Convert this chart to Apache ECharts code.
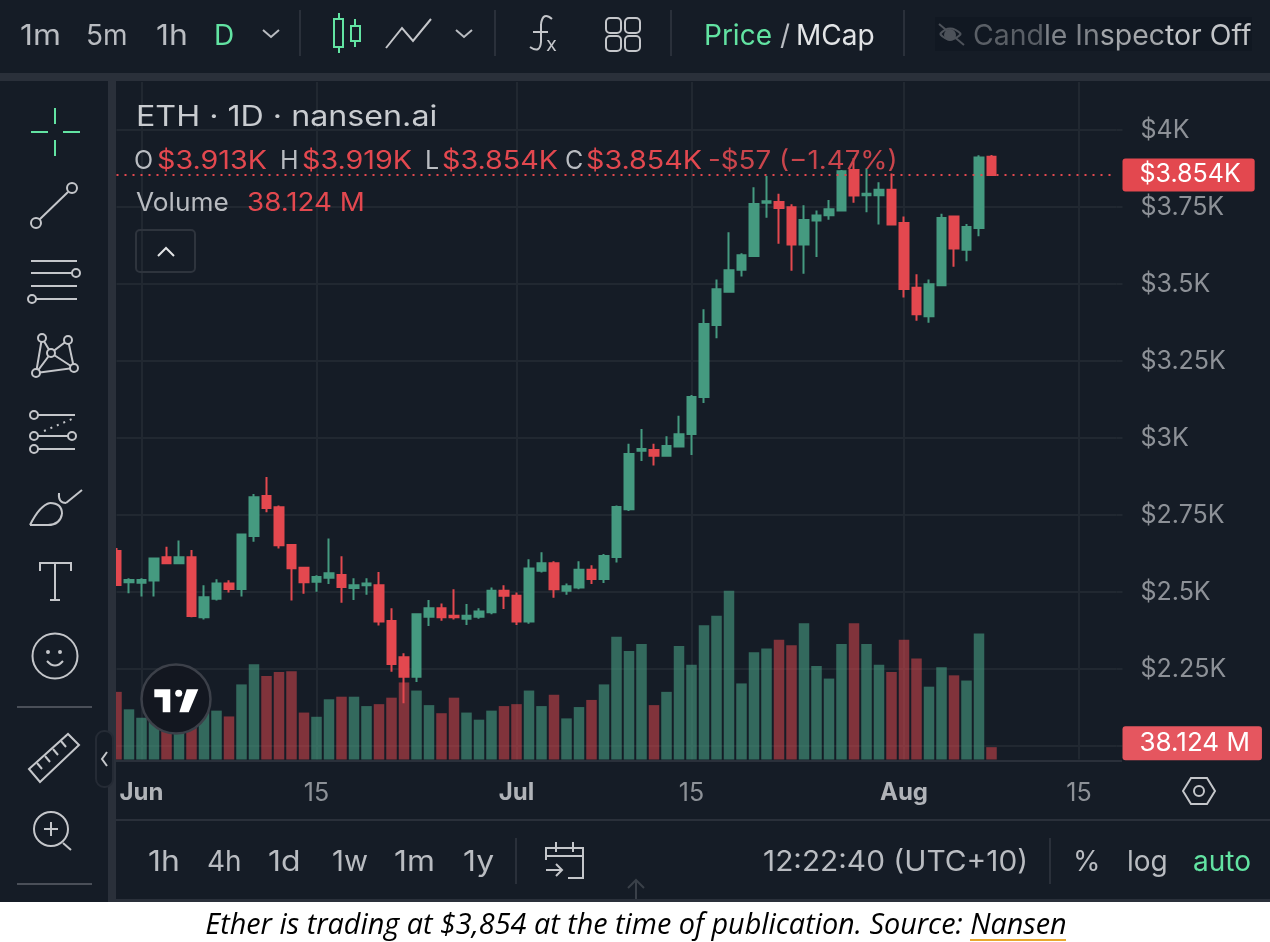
<!DOCTYPE html>
<html>
<head>
<meta charset="utf-8">
<style>
html, body { margin: 0; padding: 0; background: #fff; }
#chart { width: 1270px; height: 942px; }
</style>
<script src="https://cdn.jsdelivr.net/npm/echarts@6/dist/echarts.min.js"></script>
</head>
<body>
<div id="chart"></div>
<script>
var dates = [
	'May 30','May 31','Jun 1','Jun 2','Jun 3','Jun 4','Jun 5','Jun 6','Jun 7','Jun 8',
	'Jun 9','Jun 10','Jun 11','Jun 12','Jun 13','Jun 14','Jun 15','Jun 16','Jun 17','Jun 18',
	'Jun 19','Jun 20','Jun 21','Jun 22','Jun 23','Jun 24','Jun 25','Jun 26','Jun 27','Jun 28',
	'Jun 29','Jun 30','Jul 1','Jul 2','Jul 3','Jul 4','Jul 5','Jul 6','Jul 7','Jul 8',
	'Jul 9','Jul 10','Jul 11','Jul 12','Jul 13','Jul 14','Jul 15','Jul 16','Jul 17','Jul 18',
	'Jul 19','Jul 20','Jul 21','Jul 22','Jul 23','Jul 24','Jul 25','Jul 26','Jul 27','Jul 28',
	'Jul 29','Jul 30','Jul 31','Aug 1','Aug 2','Aug 3','Aug 4','Aug 5','Aug 6','Aug 7',
	'Aug 8','Aug 9','Aug 10','Aug 11','Aug 12','Aug 13','Aug 14','Aug 15','Aug 16','Aug 17',
	'Aug 18'
];
var opens = [
	2633,2532,2530,2537,2613,2593,2613,2418,2478,2528,
	2510,2682,2812,2775,2653,2579,2533,2546,2555,2513,
	2522,2522,2406,2288,2225,2420,2447,2423,2413,2420,
	2434,2504,2488,2404,2569,2593,2504,2515,2572,2542,
	2614,2769,2959,2961,2942,2972,3013,3133,3367,3475,
	3546,3591,3764,3766,3749,3628,3706,3723,3739,3870,
	3788,3788,3806,3698,3488,3395,3496,3719,3611,3682,
	3913
];
var closes = [
	2523,2539,2539,2609,2593,2613,2422,2483,2528,2510,
	2687,2808,2773,2652,2577,2532,2549,2561,2516,2522,
	2528,2404,2266,2225,2428,2447,2418,2418,2423,2437,
	2504,2488,2404,2576,2593,2509,2519,2572,2542,2617,
	2776,2948,2964,2942,2974,3012,3133,3370,3483,3545,
	3593,3760,3769,3747,3628,3708,3722,3743,3866,3787,
	3793,3806,3693,3484,3402,3499,3714,3615,3685,3911,
	3854
];
var lows = [
	2520,2496,2485,2485,2593,2592,2418,2411,2472,2498,
	2485,2663,2759,2641,2472,2494,2501,2526,2465,2474,
	2491,2391,2241,2139,2208,2390,2407,2411,2393,2413,
	2428,2445,2393,2397,2563,2481,2491,2509,2526,2529,
	2596,2763,2925,2911,2941,2971,2945,3114,3324,3474,
	3524,3589,3715,3631,3543,3533,3588,3709,3738,3764,
	3733,3693,3692,3456,3381,3374,3495,3556,3574,3655,
	3854
];
var highs = [
	2643,2545,2545,2610,2647,2667,2636,2522,2541,2538,
	2688,2818,2873,2781,2655,2580,2554,2674,2616,2545,
	2545,2565,2447,2301,2430,2474,2463,2509,2461,2447,
	2515,2522,2498,2606,2629,2600,2528,2600,2587,2623,
	2781,2981,3029,2981,3006,3072,3140,3418,3515,3668,
	3600,3814,3851,3793,3759,3756,3739,3773,3870,3909,
	3876,3830,3859,3719,3532,3515,3728,3720,3695,3918,
	3919
];
var volumes = [
	209,155,129,116,142,101,132,152,151,133,
	232,294,258,270,273,145,132,186,194,194,
	165,171,191,238,213,168,143,191,145,123,
	151,165,171,213,165,200,127,162,184,232,
	379,335,357,168,209,351,293,415,444,521,
	235,331,343,370,353,421,289,250,357,421,
	357,293,270,370,312,225,285,260,244,389,
	38.124
];
var tickDates = ['Jun 1', 'Jun 15', 'Jul 1', 'Jul 15', 'Aug 1', 'Aug 15'];
var tickLabels = ['{m|Jun}', '15', '{m|Jul}', '15', '{m|Aug}', '15'];
var priceTicks = [4000, 3750, 3500, 3250, 3000, 2750, 2500, 2250];
var priceLabels = ['$4K', '$3.75K', '$3.5K', '$3.25K', '$3K', '$2.75K', '$2.5K', '$2.25K'];
var lastPrice = 3854;
var lastVolume = 38.124;

var bg = '#151c26';
var sep = '#2a303a';
var gridColor = '#212831';
var green = '#459a80';
var red = '#e3484f';
var mint = '#62e3a2';
var textGrey = '#b9bcc1';
var axisGrey = '#8d9197';
var iconGrey = '#c4c6ca';
var uiFont = 'Inter, sans-serif';

// sx stretches the text sideways, the source screenshot is a bit wider than Inter
function txt(x, y, text, color, size, sx, extra) {
	var style = {
		text: text, x: 0, y: 0, fill: color,
		font: (size || 28) + 'px ' + uiFont,
		textAlign: 'left', textVerticalAlign: 'middle'
	};
	for (var k in extra) { style[k] = extra[k]; }
	return { type: 'text', silent: true, x: x, y: y + 4, scaleX: sx || 1, style: style };
}
function line(x1, y1, x2, y2, color, width, dash) {
	return {
		type: 'line', silent: true,
		shape: { x1: x1, y1: y1, x2: x2, y2: y2 },
		style: { stroke: color || iconGrey, lineWidth: width || 2, lineDash: dash || null }
	};
}
function circ(cx, cy, r, color, fill) {
	return {
		type: 'circle', silent: true,
		shape: { cx: cx, cy: cy, r: r },
		style: { stroke: color || iconGrey, lineWidth: 2, fill: fill || bg }
	};
}
function poly(points, color, width, closed) {
	return {
		type: closed ? 'polygon' : 'polyline', silent: true,
		shape: { points: points },
		style: { stroke: color || iconGrey, lineWidth: width || 2, fill: closed ? 'none' : null }
	};
}
function box(x, y, w, h, fill, r, stroke) {
	return {
		type: 'rect', silent: true,
		shape: { x: x, y: y, width: w, height: h, r: r || 0 },
		style: { fill: fill, stroke: stroke || null, lineWidth: stroke ? 2 : 0 }
	};
}
function quad(x1, y1, cx, cy, x2, y2, color) {
	return {
		type: 'bezierCurve', silent: true,
		shape: { x1: x1, y1: y1, cpx1: cx, cpy1: cy, x2: x2, y2: y2 },
		style: { stroke: color || iconGrey, lineWidth: 2, fill: 'none' }
	};
}

var chrome = [
	// frame
	box(0, 73, 1270, 8, sep),
	box(108, 81, 8, 821, sep),
	box(116, 760, 1006, 2, sep),
	box(116, 819, 1154, 2, sep),
	box(116, 899, 1154, 3, sep),
	box(0, 902, 1270, 40, '#ffffff'),

	// top toolbar
	txt(20, 33, '1m', textGrey, 28, 1.14),
	txt(86, 33, '5m', textGrey),
	txt(156, 33, '1h', textGrey, 28, 1.14),
	txt(214, 33, 'D', mint),
	poly([[263, 30], [271, 37], [279, 30]], textGrey),
	line(300, 10, 300, 56, sep),
	line(339, 13, 339, 53, mint),
	box(334, 19, 9, 28, bg, 0, mint),
	line(355, 19, 355, 47, mint),
	box(351, 26, 9, 15, bg, 0, mint),
	poly([[386, 48], [402, 28], [413, 41], [431, 19]], iconGrey),
	poly([[456, 30], [464, 37], [472, 30]], textGrey),
	line(495, 10, 495, 56, sep),
	quad(552, 19, 543, 11, 541, 24),
	line(541, 24, 541, 42),
	quad(541, 42, 540, 54, 530, 47),
	line(533, 32, 548, 32),
	txt(546, 41, 'x', iconGrey, 20),
	box(606, 18, 15, 15, 'none', 4, iconGrey),
	box(625, 18, 15, 15, 'none', 4, iconGrey),
	box(606, 36, 15, 15, 'none', 4, iconGrey),
	box(625, 36, 15, 15, 'none', 4, iconGrey),
	line(671, 10, 671, 56, sep),
	txt(704, 33, 'Price', mint),
	txt(780, 33, '/', textGrey),
	txt(796, 33, 'MCap', '#e2e4e6'),
	line(904, 10, 904, 56, sep),
	box(935, 17, 317, 34, '#111822'),
	quad(940, 34, 950, 23, 961, 34, '#4d525a'),
	quad(940, 34, 950, 45, 961, 34, '#4d525a'),
	circ(950, 35, 5, '#4d525a', '#4d525a'),
	line(939, 24, 964, 45, '#4d525a'),
	txt(973, 33, '{a|Cand}{b|le In}{c|spec}{d|tor Off}', '#aaa', 28, 1.015, {
		rich: {
			a: { fill: '#5a5f66', font: '28px ' + uiFont },
			b: { fill: '#7f8389', font: '28px ' + uiFont },
			c: { fill: '#a3a6aa', font: '28px ' + uiFont },
			d: { fill: '#c3c5c8', font: '28px ' + uiFont }
		}
	}),

	// chart header
	txt(136, 114, 'ETH · 1D · nansen.ai', '#c9ccd0', 28, 1.15),
	txt(134, 157, 'O', textGrey, 25),
	txt(157, 157, '$3.913K', red, 25, 1.147),
	txt(280, 157, 'H', textGrey, 25),
	txt(302, 157, '$3.919K', red, 25, 1.147),
	txt(425, 157, 'L', textGrey, 25),
	txt(442, 157, '$3.854K', red, 25, 1.147),
	txt(565, 157, 'C', textGrey, 25),
	txt(586, 157, '$3.854K', red, 25, 1.147),
	txt(708, 157, '-$57 (−1.47%)', '#c9454c', 25, 1.11),
	txt(136, 199, 'Volume', textGrey, 25, 1.05),
	txt(247, 199, '38.124 M', red, 25, 1.11),
	box(136, 230, 59, 42, 'none', 4, '#2e343d'),
	poly([[158, 256], [166, 248], [174, 256]], '#e2e4e6'),

	// left tools
	line(55, 108, 55, 124, mint),
	line(55, 140, 55, 156, mint),
	line(31, 132, 48, 132, mint),
	line(63, 132, 80, 132, mint),
	line(39, 220, 68, 192),
	circ(36, 223, 5),
	circ(72, 188, 5),
	line(31, 261, 77, 261),
	line(31, 273, 72, 273),
	circ(76, 273, 4),
	line(31, 286, 77, 286),
	line(36, 299, 77, 299),
	circ(32, 299, 4),
	poly([[42, 338], [36, 373], [51, 353], [42, 338]]),
	poly([[36, 373], [74, 368], [68, 340], [51, 353], [74, 368]]),
	circ(42, 338, 4),
	circ(68, 340, 4),
	circ(51, 353, 4),
	circ(36, 373, 4),
	circ(74, 368, 4),
	line(38, 415, 75, 415),
	circ(34, 415, 4),
	line(44, 431, 72, 419, iconGrey, 2, [2, 5]),
	line(38, 436, 68, 436),
	circ(34, 436, 4),
	circ(72, 436, 4),
	line(38, 449, 75, 449),
	circ(34, 449, 4),
	quad(30, 525, 40, 505, 50, 503),
	quad(50, 503, 62, 503, 62, 514),
	quad(62, 514, 60, 525, 48, 525),
	line(30, 525, 48, 525),
	quad(59, 493, 58, 503, 66, 503),
	line(66, 503, 82, 490),
	poly([[40, 571], [40, 563], [71, 563], [71, 571]]),
	line(55, 563, 55, 600),
	line(50, 600, 60, 600),
	circ(55, 656, 22.5),
	circ(48, 652, 1, iconGrey, iconGrey),
	circ(60, 652, 1, iconGrey, iconGrey),
	quad(47, 661, 55, 670, 63, 661),
	line(17, 707, 92, 707, '#4a4f58'),
	poly([[29, 769], [68, 734], [79, 745], [40, 782]], iconGrey, 2, true),
	line(37, 763, 42, 769),
	line(45, 756, 50, 762),
	line(53, 749, 58, 755),
	line(61, 741, 66, 747),
	circ(51, 829, 17),
	line(44, 829, 58, 829),
	line(51, 822, 51, 836),
	line(63, 843, 71, 850),
	line(17, 884, 92, 884, '#4a4f58'),
	box(96, 731, 17, 56, bg, 8, '#252b35'),
	poly([[107, 752], [102, 759], [107, 766]], iconGrey),

	// x axis and bottom bar
	poly([[1183, 791], [1191, 778], [1207, 778], [1215, 791], [1207, 804], [1191, 804]], iconGrey, 2, true),
	circ(1199, 791, 5),
	txt(148, 859, '1h', textGrey, 28, 1.14),
	txt(207, 859, '4h', textGrey),
	txt(268, 859, '1d', textGrey, 28, 1.14),
	txt(332, 859, '1w', textGrey, 28, 1.05),
	txt(394, 859, '1m', textGrey, 28, 1.14),
	txt(463, 859, '1y', textGrey, 28, 1.14),
	line(516, 838, 516, 884, sep),
	poly([[546, 860], [546, 848], [583, 848], [583, 878], [568, 878]]),
	line(546, 856, 583, 856),
	line(556, 842, 556, 852),
	line(573, 842, 573, 852),
	line(546, 870, 562, 870),
	poly([[556, 864], [562, 870], [556, 876]]),
	txt(763, 859, '12:22:40 (UTC+10)', textGrey, 28, 1.065),
	line(1050, 838, 1050, 884, sep),
	txt(1073, 859, '%', textGrey),
	txt(1127, 859, 'log', textGrey),
	txt(1193, 859, 'auto', mint),
	line(636, 881, 636, 899, '#3a4049'),
	poly([[628, 888], [636, 880], [644, 888]], '#3a4049'),

	// logo
	{
		type: 'circle', silent: true,
		shape: { cx: 176, cy: 699, r: 34.5 },
		style: { fill: '#131720', stroke: '#3c4049', lineWidth: 2.5 }
	},
	{
		type: 'polygon', silent: true,
		shape: { points: [[154.3, 689.3], [170.3, 689.3], [170.3, 712.3], [162.7, 712.3], [162.7, 697.3], [154.3, 697.3]] },
		style: { fill: '#ffffff' }
	},
	{
		type: 'circle', silent: true,
		shape: { cx: 178.7, cy: 693.3, r: 3.5 },
		style: { fill: '#ffffff' }
	},
	{
		type: 'polygon', silent: true,
		shape: { points: [[186.7, 689.3], [198.3, 689.3], [188.7, 712.3], [179.3, 712.3]] },
		style: { fill: '#ffffff' }
	},

	// caption
	txt(636, 922, 'Ether is trading at $3,854 at the time of publication. Source: Nansen', '#000000', 28, 1, {
		font: 'italic 28.8px "Open Sans", sans-serif', textAlign: 'center'
	}),
	box(970, 939, 96, 2, '#e8a92e')
];
// keep the interface above the candles and bars
chrome.forEach(function (el) { el.z = 100; });

var candleData = [];
var volumeData = [];
for (var i = 0; i < opens.length; i++) {
	candleData.push([opens[i], closes[i], lows[i], highs[i]]);
	volumeData.push({
		value: volumes[i],
		itemStyle: { color: closes[i] >= opens[i] ? 'rgba(69,154,128,0.62)' : 'rgba(227,72,79,0.52)' }
	});
}

function isTick(index, value) {
	return tickDates.indexOf(value) >= 0;
}

var option = {
	animation: false,
	backgroundColor: bg,
	textStyle: { fontFamily: uiFont },
	grid: [
		{ left: 116.5, width: 1000, top: 130, height: 616 },
		{ left: 116.5, width: 1000, top: 82, height: 677.5 }
	],
	xAxis: [
		{
			type: 'category', gridIndex: 0, data: dates, boundaryGap: false,
			axisLine: { show: false }, axisTick: { show: false },
			axisLabel: { show: false }, splitLine: { show: false }
		},
		{
			type: 'category', gridIndex: 1, data: dates, boundaryGap: false,
			axisLine: { show: false }, axisTick: { show: false },
			axisLabel: {
				interval: isTick,
				margin: 21,
				color: axisGrey,
				fontSize: 25,
				formatter: function (value) {
					return tickLabels[tickDates.indexOf(value)];
				},
				rich: { m: { color: '#b0b3b8', fontSize: 24, fontWeight: 'bold', fontFamily: uiFont } }
			},
			splitLine: { show: true, interval: isTick, lineStyle: { color: gridColor, width: 2 } }
		}
	],
	yAxis: [
		{
			type: 'value', gridIndex: 0, position: 'right',
			min: 2000, max: 4000, interval: 250,
			axisLine: { show: false },
			axisTick: { show: true, length: 6, lineStyle: { color: gridColor, width: 2 } },
			axisLabel: {
				margin: 24,
				color: axisGrey,
				fontSize: 25,
				padding: [8, 0, 0, 0],
				formatter: function (value) {
					var idx = priceTicks.indexOf(value);
					return idx >= 0 ? priceLabels[idx] : '';
				}
			},
			splitLine: { show: true, lineStyle: { color: gridColor, width: 2 } }
		},
		{
			type: 'value', gridIndex: 1, min: 0, max: 2093, show: false
		}
	],
	series: [
		{
			name: 'Volume',
			type: 'bar',
			xAxisIndex: 1,
			yAxisIndex: 1,
			barWidth: 10.5,
			data: volumeData,
			z: 1,
			markLine: {
				silent: true, symbol: 'none', animation: false,
				lineStyle: { color: 'rgba(0,0,0,0)' },
				label: {
					position: 'end', distance: 6,
					offset: [0, -4],
					color: '#ffffff', fontSize: 26, fontFamily: uiFont,
					backgroundColor: '#e5565f', borderRadius: 3,
					padding: [6, 12, 2, 17],
					formatter: function () { return lastVolume + ' M'; }
				},
				data: [{ yAxis: lastVolume }]
			}
		},
		{
			name: 'ETH',
			type: 'candlestick',
			xAxisIndex: 0,
			yAxisIndex: 0,
			barWidth: 9,
			data: candleData,
			z: 3,
			itemStyle: {
				color: green, color0: red,
				borderColor: green, borderColor0: red,
				borderWidth: 2
			},
			markLine: {
				silent: true, symbol: 'none', animation: false,
				lineStyle: { color: red, type: [2, 6], width: 2, opacity: 1 },
				label: {
					position: 'end', distance: 6,
					color: '#ffffff', fontSize: 25, fontFamily: uiFont,
					backgroundColor: red, borderRadius: 3,
					padding: [7, 14, 1, 17],
					formatter: function () { return '$' + (lastPrice / 1000).toFixed(3) + 'K'; }
				},
				data: [{ yAxis: lastPrice }]
			}
		}
	],
	graphic: { elements: chrome }
};

var chart = echarts.init(document.getElementById('chart'));
chart.setOption(option);
</script>
</body>
</html>
